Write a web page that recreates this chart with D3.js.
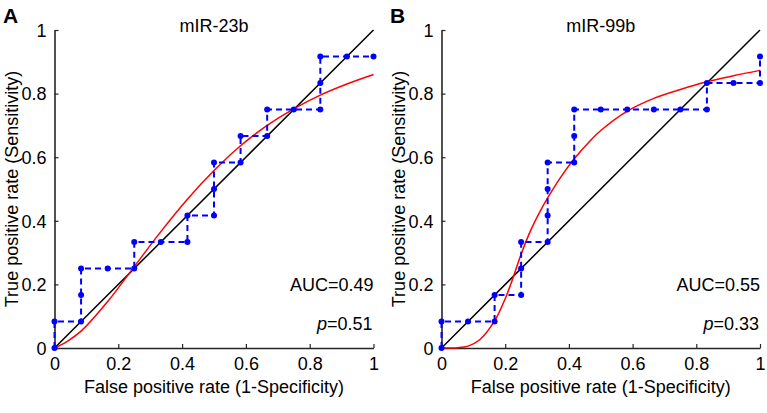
<!DOCTYPE html>
<html>
<head>
<meta charset="utf-8">
<script src="https://cdn.jsdelivr.net/npm/d3@7"></script>
<style>
  html, body { margin: 0; padding: 0; background: #fff; }
  svg { display: block; font-family: "Liberation Sans", Arial, sans-serif; }
</style>
</head>
<body>
<svg id="chart" width="767" height="413"></svg>
<script>
// ---- Data ----
const ticks = [0, 0.2, 0.4, 0.6, 0.8, 1];
const tickLabels = ["0", "0.2", "0.4", "0.6", "0.8", "1"];

// Panel A: mIR-23b
const titleA = "mIR-23b";
const rocA_fpr = [0, 0, 0.0833, 0.0833, 0.0833, 0.1667, 0.25, 0.25, 0.3333, 0.4167, 0.4167, 0.5, 0.5, 0.5, 0.5833, 0.5833, 0.6667, 0.6667, 0.75, 0.8333, 0.8333, 0.8333, 0.9167, 1];
const rocA_tpr = [0, 0.0833, 0.0833, 0.1667, 0.25, 0.25, 0.25, 0.3333, 0.3333, 0.3333, 0.4167, 0.4167, 0.5, 0.5833, 0.5833, 0.6667, 0.6667, 0.75, 0.75, 0.75, 0.8333, 0.9167, 0.9167, 0.9167];
const fitA_x = [0, 0.04, 0.0833, 0.1667, 0.25, 0.3333, 0.4167, 0.5, 0.5833, 0.6667, 0.75, 0.8333, 0.9167, 1];
const fitA_y = [0, 0.021, 0.053, 0.146, 0.256, 0.366, 0.468, 0.558, 0.636, 0.70, 0.752, 0.795, 0.83, 0.86];
const aucA = "0.49", pA = "0.51";

// Panel B: mIR-99b
const titleB = "mIR-99b";
const rocB_fpr = [0, 0, 0.0833, 0.1667, 0.1667, 0.25, 0.25, 0.25, 0.3333, 0.3333, 0.3333, 0.3333, 0.4167, 0.4167, 0.4167, 0.5, 0.5833, 0.6667, 0.75, 0.8333, 0.8333, 0.9167, 1, 1];
const rocB_tpr = [0, 0.0833, 0.0833, 0.0833, 0.1667, 0.1667, 0.25, 0.3333, 0.3333, 0.4167, 0.5, 0.5833, 0.5833, 0.6667, 0.75, 0.75, 0.75, 0.75, 0.75, 0.75, 0.8333, 0.8333, 0.8333, 0.9167];
const fitB_x = [0, 0.05, 0.0833, 0.12, 0.1667, 0.2, 0.227, 0.25, 0.28, 0.315, 0.3333, 0.375, 0.4167, 0.467, 0.5, 0.5833, 0.6667, 0.75, 0.8333, 0.9167, 1];
const fitB_y = [0, 0.001, 0.006, 0.026, 0.085, 0.155, 0.228, 0.295, 0.37, 0.44, 0.472, 0.538, 0.595, 0.652, 0.684, 0.745, 0.785, 0.813, 0.837, 0.856, 0.873];
const aucB = "0.55", pB = "0.33";

const diagonal = [0, 1];

// ---- Drawing ----
const svg = d3.select("#chart");
const axisColor = "#262626";

function panel(opts) {
  const x = d3.scaleLinear().domain([0, 1]).range([opts.x0, opts.x1]);
  const y = d3.scaleLinear().domain([0, 1]).range([opts.y0, opts.y1]);
  const g = svg.append("g");

  // axes with inward ticks
  const xAxis = d3.axisBottom(x).tickValues(ticks).tickFormat((d, i) => tickLabels[i]).tickSizeInner(-4).tickSizeOuter(0).tickPadding(8);
  const yAxis = d3.axisLeft(y).tickValues(ticks).tickFormat((d, i) => tickLabels[i]).tickSizeInner(-4).tickSizeOuter(0).tickPadding(8);

  const gx = g.append("g").attr("transform", `translate(0,${opts.y0})`).call(xAxis);
  const gy = g.append("g").attr("transform", `translate(${opts.x0},0)`).call(yAxis);
  [gx, gy].forEach(a => {
    a.select(".domain").attr("stroke", axisColor).attr("stroke-width", 1.6);
    a.selectAll(".tick line").attr("stroke", axisColor).attr("stroke-width", 1.2);
    a.selectAll(".tick text").attr("fill", "#000").attr("font-size", 18).attr("font-family", "Liberation Sans, Arial, sans-serif");
  });
  gx.selectAll(".tick text").attr("dy", "0.75em");
  gy.selectAll(".tick text").attr("dy", "0.35em");

  // diagonal
  const line = d3.line().x(d => x(d[0])).y(d => y(d[1]));
  g.append("path").datum(diagonal.map(v => [v, v])).attr("d", line)
    .attr("fill", "none").attr("stroke", "#000").attr("stroke-width", 1.5);

  // fitted curve
  const curve = d3.line().x(d => x(d[0])).y(d => y(d[1])).curve(d3.curveCatmullRom.alpha(0.5));
  g.append("path").datum(opts.fitX.map((v, i) => [v, opts.fitY[i]])).attr("d", curve)
    .attr("fill", "none").attr("stroke", "#ff0000").attr("stroke-width", 1.5);

  // empirical ROC
  const pts = opts.fpr.map((v, i) => [v, opts.tpr[i]]);
  g.append("path").datum(pts).attr("d", line)
    .attr("fill", "none").attr("stroke", "#0000ff").attr("stroke-width", 2)
    .attr("stroke-dasharray", "6,4");
  g.selectAll("circle.pt").data(pts).enter().append("circle")
    .attr("cx", d => x(d[0])).attr("cy", d => y(d[1])).attr("r", 3).attr("fill", "#0000ff");

  // title
  g.append("text").attr("x", (opts.x0 + opts.x1) / 2).attr("y", opts.y1 + 2)
    .attr("text-anchor", "middle").attr("font-size", 18).text(opts.title);
  // panel letter
  g.append("text").attr("x", opts.letterX).attr("y", 23)
    .attr("font-size", 21).attr("font-weight", "bold").text(opts.letter);
  // x label
  g.append("text").attr("x", (opts.x0 + opts.x1) / 2).attr("y", 393)
    .attr("text-anchor", "middle").attr("font-size", 18).text("False positive rate (1-Specificity)");
  // y label
  g.append("text").attr("transform", `translate(${opts.x0 - 37},${(opts.y0 + opts.y1) / 2}) rotate(-90)`)
    .attr("text-anchor", "middle").attr("font-size", 18).text("True positive rate (Sensitivity)");
  // AUC and p
  g.append("text").attr("x", x(1)).attr("y", 291).attr("text-anchor", "end")
    .attr("font-size", 18).text("AUC=" + opts.auc);
  const pt = g.append("text").attr("x", x(1) - 1).attr("y", 330).attr("text-anchor", "end").attr("font-size", 18);
  pt.append("tspan").attr("font-style", "italic").text("p");
  pt.append("tspan").text("=" + opts.p);
}

panel({ x0: 54.5, x1: 373.5, y0: 348, y1: 30, title: titleA, letter: "A", letterX: 3,
  fpr: rocA_fpr, tpr: rocA_tpr, fitX: fitA_x, fitY: fitA_y, auc: aucA, p: pA });
panel({ x0: 441.5, x1: 760, y0: 348, y1: 30, title: titleB, letter: "B", letterX: 390,
  fpr: rocB_fpr, tpr: rocB_tpr, fitX: fitB_x, fitY: fitB_y, auc: aucB, p: pB });
</script>
</body>
</html>
